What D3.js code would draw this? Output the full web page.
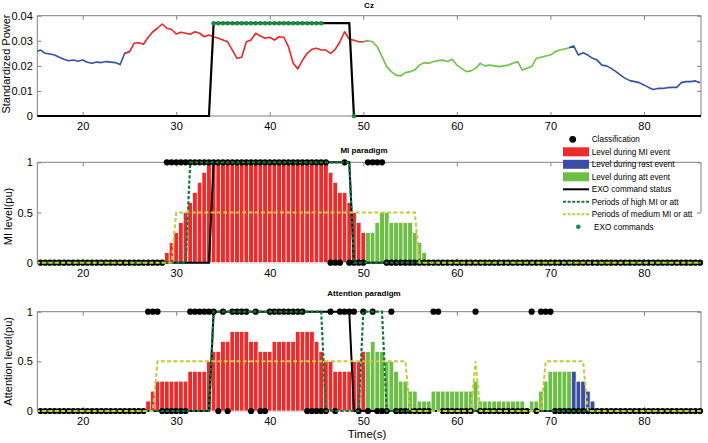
<!DOCTYPE html>
<html><head><meta charset="utf-8">
<script src="https://cdn.jsdelivr.net/npm/d3@7"></script>
<style>
body{margin:0;background:#fff;}
text{font-family:"Liberation Sans",Arial,sans-serif;fill:#000;}
</style>
</head><body>
<svg id="chart" width="708" height="443"></svg>
<script>
// ---------------- DATA ----------------
const xTicks = [20, 30, 40, 50, 60, 70, 80];
const czTicks = [0, 0.01, 0.02, 0.03, 0.04];
const levelTicks = [0, 0.5, 1];
const czTickLabels = ["0", "0.01", "0.02", "0.03", "0.04"];
const levelTickLabels = ["0", "0.5", "1"];

// sample grid (s): 15.0 ... 86.0 every 0.5 s
const sampleTimes = d3.range(15, 86.001, 0.5);

// Cz standardized power
const czValues = [
 .0256,.0263,.0250,.0247,.0243,.0234,.0226,.0220,.0223,.0218,.0223,.0214,.0210,.0215,.0213,.0217,.0215,.0213,.0205,.0250,.0256,
 .0290,.0292,.0286,.0314,.0336,.0350,.0367,.0350,.0345,.0327,
 .0334,.0330,.0326,.0336,.0330,.0316,.0323,.0316,.0310,.0303,
 .0296,.0263,.0230,.0234,.0296,.0303,.0330,.0319,.0310,.0314,
 .0303,.0316,.0314,.0276,.0210,.0188,.0223,.0250,.0266,.0270,
 .0263,.0263,.0250,.0266,.0296,.0336,.0306,.0302,.0296,.0296,
 .0300,.0296,.0276,.0237,.0197,.0177,.0163,.0160,.0173,.0177,
 .0183,.0203,.0213,.0210,.0217,.0221,.0223,.0217,.0226,.0203,
 .0190,.0177,.0180,.0190,.0210,.0200,.0203,.0200,.0197,.0200,
 .0203,.0210,.0217,.0183,.0190,.0197,.0230,.0234,.0239,.0243,
 .0256,.0263,.0267,.0272,.0279,.0243,.0252,.0243,.0230,.0223,
 .0203,.0200,.0190,.0177,.0163,.0150,.0141,.0137,.0133,.0124,
 .0114,.0106,.0110,.0110,.0113,.0114,.0114,.0133,.0137,.0137,
 .0140,.0133
];

// events (start time of each event and its type)
const eventStart = [15, 25, 50.25, 72.25];
const eventType  = ["rest", "mi", "att", "rest"];

// EXO command status (breakpoints)
const exoT   = [15, 33.5, 34, 48.5, 49, 86.1];
const exoV   = [0, 0, 1, 1, 0, 0];
const exoCzV = [0, 0, 0.037, 0.037, 0, 0];

// EXO commands (top panel)
const exoCmdTimes  = [34,34.5,35,35.5,36,36.5,37,37.5,38,38.5,39,39.5,40,40.5,41,41.5,42,42.5,43,43.5,44,44.5,45,45.5,49];
const exoCmdValues = [.037,.037,.037,.037,.037,.037,.037,.037,.037,.037,.037,.037,.037,.037,.037,.037,.037,.037,.037,.037,.037,.037,.037,.037,0];

// MI paradigm
const miBarTimes = [29,29.5,30,30.5,31,31.5,32,32.5,33,33.5,34,34.5,35,35.5,36,36.5,37,37.5,38,38.5,39,39.5,40,40.5,41,41.5,42,42.5,43,43.5,44,44.5,45,45.5,46,46.5,47,47.5,48,48.5,49,49.5,50,50.5,51,51.5,52,52.5,53,53.5,54,54.5,55,55.5,56,56.5];
const miBarValues = [.1,.2,.3,.4,.5,.6,.7,.8,.9,1,1,1,1,1,1,1,1,1,1,1,1,1,1,1,1,1,1,1,1,1,1,1,1,1,1,.9,.8,.7,.7,.6,.5,.4,.3,.3,.3,.4,.5,.5,.4,.4,.4,.4,.4,.3,.2,.1];
const miClass = [
 0,0,0,0,0,0,0,0,0,0,0,0,0,0,0,0,0,0,0,0,0,0,0,0,0,0,0,0,
 1,1,1,1,1,1,1,1,1,1,1,1,1,1,1,1,1,1,1,1,1,1,1,1,1,1,1,1,1,1,1,1,1,1,1,
 0,0,0,
 1,
 0,0,0,0,
 1,1,1,1,
 0,0,0,0,0,0,0,0,0,0,0,0,0,0,0,0,0,0,0,0,0,0,0,0,0,0,0,0,0,0,0,0,0,0,0,0,0,0,0,0,0,0,0,0,0,0,0,0,0,0,0,0,0,0,0,0,0,0,0,0,0,0,0,0,0,0,0,0
];
const miHighT = [15, 31, 31.5, 48.5, 49, 86.1];
const miHighV = [0, 0, 1, 1, 0, 0];
const miMedT  = [15, 29.5, 30, 55.5, 56, 86.1];
const miMedV  = [0, 0, .5, .5, 0, 0];

// Attention paradigm
const attBarTimes = [27,27.5,28,28.5,29,29.5,30,30.5,31,31.5,32,32.5,33,33.5,34,34.5,35,35.5,36,36.5,37,37.5,38,38.5,39,39.5,40,40.5,41,41.5,42,42.5,43,43.5,44,44.5,45,45.5,46,46.5,47,47.5,48,48.5,49,49.5,50,50.5,51,51.5,52,52.5,53,53.5,54,54.5,55,55.5,56,56.5,57,57.5,58,58.5,59,59.5,60,60.5,61,61.5,62,62.5,63,63.5,64,64.5,65,65.5,66,66.5,67,68,68.5,69,69.5,70,70.5,71,71.5,72,72.5,73,73.5,74,74.5];
const attBarValues = [.1,.2,.3,.3,.3,.3,.3,.3,.3,.4,.4,.4,.4,.5,.6,.6,.7,.7,.8,.8,.8,.8,.7,.7,.6,.6,.6,.7,.7,.7,.7,.7,.8,.8,.8,.8,.7,.6,.5,.5,.4,.4,.4,.4,.5,.5,.6,.6,.7,.6,.6,.5,.5,.4,.3,.3,.2,.2,.1,.1,.1,.2,.2,.2,.2,.2,.2,.2,.2,.2,.3,.1,.1,.1,.1,.1,.1,.1,.1,.1,.1,.1,.1,.2,.3,.4,.4,.4,.4,.4,.4,.3,.3,.2,.1];
const attClass = [
 0,0,0,0,0,0,0,0,0,0,0,0,0,0,0,0,0,0,0,0,0,0,0,0,
 1,1,1,
 0,0,0,0,0,0,
 1,1,1,1,1,1,
 0,1,0,
 1,1,1,1,
 0,1,0,0,
 1,1,1,1,1,1,1,1,
 0,0,0,0,0,
 1,0,
 1,1,1,1,
 0,1,0,1,
 0,0,0,
 1,
 0,0,0,0,0,0,0,0,
 1,1,
 0,0,0,0,0,0,0,
 1,
 0,0,0,0,0,0,0,0,0,0,0,
 1,0,
 1,1,1,
 0,0,0,0,0,0,0,0,0,0,0,0,0,0,0,0,0,0,0,0,0,0,0,0,0,0,0,0,0,0,0,0
];
const attHighT = [15, 33.5, 34, 45.5, 46, 49.5, 50, 52, 52.5, 86.1];
const attHighV = [0, 0, 1, 1, 0, 0, 1, 1, 0, 0];
const attMedT  = [15, 27.5, 28, 54.5, 55, 61.5, 62, 62.5, 69, 69.5, 73.5, 74, 86.1];
const attMedV  = [0, 0, .5, .5, 0, 0, .5, 0, 0, .5, .5, 0, 0];

const legendLabels = ["Classification","Level during MI event","Level during rest event","Level during att event","EXO command status","Periods of high MI or att","Periods of medium MI or att","EXO commands"];
const legendKinds  = ["dot","mi","rest","att","exo","high","med","cmd"];

// ---------------- STYLE ----------------
const barColor  = {mi:"#ef2a2a", rest:"#3a4ca6", att:"#6cbf45"};
const lineColor = {mi:"#f02424", rest:"#3451a8", att:"#6cc444"};
const frameColor = "#808080";
const highColor = "#0d7a3a", medColor = "#c9c83a";

// ---------------- CHART ----------------
const svg = d3.select("#chart");
const X = d3.scaleLinear().domain([15.15, 86.1]).range([37.3, 701]);
const xL = X.range()[0], xR = X.range()[1];

function eventOf(t){ let k = 0; eventStart.forEach((s,i)=>{ if (t >= s) k = i; }); return eventType[k]; }

function frame(Y, ticks, labels, id, rightTo){
  const g = svg.append("g");
  const y0 = Y.range()[0], y1 = Y.range()[1];
  g.append("defs").append("clipPath").attr("id", id).append("rect")
    .attr("x", xL).attr("y", y1 - 6).attr("width", xR - xL).attr("height", y0 - y1 + 12);
  const ab = g.append("g").attr("transform", `translate(0,${y0})`)
    .call(d3.axisBottom(X).tickValues(xTicks).tickSizeInner(-4).tickSizeOuter(0).tickPadding(6.5));
  const at = g.append("g").attr("transform", `translate(0,${y1})`)
    .call(d3.axisTop(X).tickValues(xTicks).tickSizeInner(-4).tickSizeOuter(0).tickFormat(""));
  const al = g.append("g").attr("transform", `translate(${xL},0)`)
    .call(d3.axisLeft(Y).tickValues(ticks).tickSizeInner(-4).tickSizeOuter(0).tickPadding(4.5).tickFormat((d,i)=>labels[i]));
  const ar = g.append("g").attr("transform", `translate(${xR},0)`)
    .call(d3.axisRight(Y).tickValues(ticks.filter(v => Y(v) <= rightTo + 0.5)).tickSizeInner(-4).tickSizeOuter(0).tickFormat(""));
  [ab, at, al, ar].forEach(a => {
    a.select(".domain").remove();
    a.selectAll(".tick line").attr("stroke", frameColor);
    a.selectAll("text").attr("font-size", 11).attr("fill", "#000")
      .attr("font-family", '"Liberation Sans",Arial,sans-serif');
  });
  g.append("line").attr("x1", xL).attr("x2", xR).attr("y1", y0).attr("y2", y0).attr("stroke", frameColor);
  g.append("line").attr("x1", xL).attr("x2", xR).attr("y1", y1).attr("y2", y1).attr("stroke", frameColor);
  g.append("line").attr("x1", xL).attr("x2", xL).attr("y1", y1).attr("y2", y0).attr("stroke", frameColor);
  g.append("line").attr("x1", xR).attr("x2", xR).attr("y1", y1).attr("y2", rightTo).attr("stroke", frameColor);
  return g;
}

function stepLine(g, Y, T, V, color, width, dash, clip){
  const line = d3.line().x((d,i)=>X(T[i])).y((d,i)=>Y(V[i]));
  g.append("path").datum(T).attr("d", line).attr("fill","none")
    .attr("stroke", color).attr("stroke-width", width)
    .attr("stroke-dasharray", dash || null).attr("clip-path", `url(#${clip})`);
}

// ---- top panel: Cz ----
const Ycz = d3.scaleLinear().domain([0, 0.04]).range([116, 15.7]);
const gCz = frame(Ycz, czTicks, czTickLabels, "clipCz", 116);
eventStart.forEach((s, i) => {
  const e = i < eventStart.length - 1 ? eventStart[i+1] : 1e9;
  const idx = sampleTimes.map((t,j)=>j).filter(j => sampleTimes[j] >= s - 0.5 && sampleTimes[j] <= e + 0.25);
  const pts = idx.filter(j => sampleTimes[j] >= s || (j + 1 < sampleTimes.length && sampleTimes[j+1] >= s));
  gCz.append("path").datum(pts)
    .attr("d", d3.line().x(j => X(sampleTimes[j])).y(j => Ycz(czValues[j])))
    .attr("fill","none").attr("stroke", lineColor[eventType[i]]).attr("stroke-width", 1.6)
    .attr("stroke-linejoin","round")
    .attr("clip-path","url(#clipCz)");
});
stepLine(gCz, Ycz, exoT, exoCzV, "#000", 2.2, null, "clipCz");
gCz.selectAll("circle.cmd").data(exoCmdTimes).join("circle")
  .attr("cx", t => X(t)).attr("cy", (t,i) => Ycz(exoCmdValues[i])).attr("r", 2.3).attr("fill", "#1c8a42");
gCz.append("text").attr("x", 369).attr("y", 8).attr("text-anchor","middle")
  .attr("font-size", 8).attr("font-weight","bold").text("Cz");
gCz.append("text").attr("transform","translate(10,64) rotate(-90)").attr("text-anchor","middle")
  .attr("font-size", 11).text("Standardized Power");

// ---- level panels ----
function levelPanel(Y, barT, barV, cls, hiT, hiV, mdT, mdV, title, titleY, ylab, clip, rightTo){
  const g = frame(Y, levelTicks, levelTickLabels, clip, rightTo);
  const bars = barT.map((t,i)=>({t, v: barV[i]})).filter(d => d.v > 0);
  g.selectAll("rect.bar").data(bars).join("rect")
    .attr("x", d => X(d.t - 0.25)).attr("width", d => X(d.t + 0.25) - X(d.t - 0.25))
    .attr("y", d => Y(d.v)).attr("height", d => Y(0) - Y(d.v))
    .attr("fill", d => barColor[eventOf(d.t)]).attr("stroke", "#fff").attr("stroke-width", 0.7);
  const dots = sampleTimes.map((t,i)=>({t, c: cls[i]})).filter(d => d.t >= X.domain()[0] && d.t <= X.domain()[1]);
  g.selectAll("circle.cls").data(dots).join("circle")
    .attr("cx", d => X(d.t)).attr("cy", d => Y(d.c)).attr("r", 3.1).attr("fill", "#000");
  stepLine(g, Y, exoT, exoV, "#000", 2, null, clip);
  stepLine(g, Y, hiT, hiV, highColor, 2.2, "3.2,2", clip);
  stepLine(g, Y, mdT, mdV, medColor, 2, "4,2.3", clip);
  g.append("text").attr("x", 364).attr("y", titleY).attr("text-anchor","middle")
    .attr("font-size", 8).attr("font-weight","bold").text(title);
  const yc = (Y.range()[0] + Y.range()[1]) / 2;
  g.append("text").attr("transform",`translate(12,${yc + (ylab.length > 14 ? 0 : 4)}) rotate(-90)`).attr("text-anchor","middle")
    .attr("font-size", 11).text(ylab);
  return g;
}

const Ymi = d3.scaleLinear().domain([0,1]).range([262.7, 162.3]);
levelPanel(Ymi, miBarTimes, miBarValues, miClass, miHighT, miHighV, miMedT, miMedV,
  "MI paradigm", 152.5, "MI level(pu)", "clipMi", Ymi(0.5));
const Yatt = d3.scaleLinear().domain([0,1]).range([411, 311.7]);
levelPanel(Yatt, attBarTimes, attBarValues, attClass, attHighT, attHighV, attMedT, attMedV,
  "Attention paradigm", 296, "Attention level(pu)", "clipAtt", 411);

svg.append("text").attr("x", 367).attr("y", 438).attr("text-anchor","middle").attr("font-size", 11.5).text("Time(s)");

// ---- legend ----
const lg = svg.append("g");
legendLabels.forEach((lab, i) => {
  const y = 139.3 + i * 12.5, k = legendKinds[i];
  if (k === "dot") lg.append("circle").attr("cx", 572.7).attr("cy", y).attr("r", 3.4).attr("fill", "#000");
  else if (k === "cmd") lg.append("circle").attr("cx", 578.3).attr("cy", y).attr("r", 2.3).attr("fill", "#1c8a42");
  else if (k === "mi" || k === "rest" || k === "att")
    lg.append("rect").attr("x", 563).attr("y", y - 4.5).attr("width", 26).attr("height", 9).attr("fill", barColor[k]);
  else {
    const st = {exo:["#000",2,null], high:[highColor,2,"3,1.6"], med:[medColor,2,"3,1.6"]}[k];
    lg.append("line").attr("x1", 563).attr("x2", 589).attr("y1", y).attr("y2", y)
      .attr("stroke", st[0]).attr("stroke-width", st[1]).attr("stroke-dasharray", st[2]);
  }
  lg.append("text").attr("x", k === "cmd" ? 594 : 591.7).attr("y", y + 3).attr("font-size", 8.2)
    .attr("fill", "#222").text(lab);
});
</script>
</body></html>
